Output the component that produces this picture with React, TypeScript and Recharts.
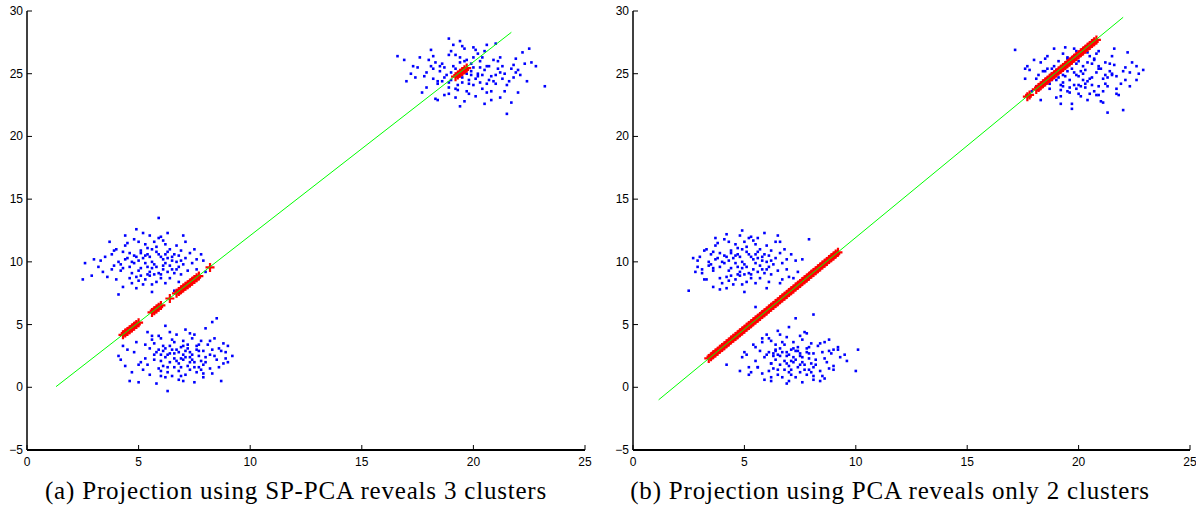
import { ScatterChart, Scatter, XAxis, YAxis } from "recharts";

type Pt = [number, number];

const xTicks = [0, 5, 10, 15, 20, 25];
const yTicks = [-5, 0, 5, 10, 15, 20, 25, 30];

// (a) SP-PCA panel: blue clusters
const spUpperLeft: Pt[] = [
  [5.7, 9.8], [5.2, 10.3], [6.1, 9.4], [4.8, 9.9], [6.5, 10.1], [5.5, 9.2], [5.9, 10.6], [4.4, 10.2], [6.8, 9.6], [5.1, 9.5],
  [6.3, 10.8], [5.4, 11.1], [4.9, 8.8], [6.0, 9.0], [7.1, 10.3], [3.9, 9.7], [5.6, 10.0], [6.6, 9.1], [4.6, 10.7], [5.3, 8.6],
  [7.4, 9.9], [3.5, 10.4], [6.2, 11.4], [5.8, 8.4], [4.2, 9.3], [6.9, 10.9], [5.0, 11.6], [7.6, 9.4], [4.0, 11.0], [6.4, 8.7],
  [5.5, 12.1], [3.2, 9.6], [7.8, 10.6], [4.7, 8.3], [6.0, 12.0], [2.6, 9.9], [2.9, 8.9], [2.5, 8.6], [8.0, 9.2], [5.9, 13.5],
  [4.9, 12.6], [6.3, 12.3], [7.0, 12.1], [4.4, 12.1], [5.2, 12.3], [4.1, 7.4], [6.6, 7.7], [5.6, 7.6], [7.3, 8.2], [3.6, 8.8],
  [5.1, 10.9], [5.8, 11.2], [6.7, 11.3], [4.5, 11.5], [3.8, 10.6], [7.5, 11.0], [7.7, 8.8], [4.3, 8.0], [5.4, 9.0], [6.1, 10.2],
  [5.0, 10.1], [4.6, 9.6], [6.4, 9.7], [5.6, 9.5], [5.3, 10.5], [6.0, 10.4], [4.8, 10.5], [5.9, 9.1], [6.8, 10.5], [4.1, 10.0],
  [5.7, 11.6], [6.9, 9.0], [3.7, 11.6], [7.2, 9.3], [5.5, 8.9], [4.3, 10.8], [6.2, 8.3], [4.9, 7.9], [7.9, 10.1], [3.4, 9.2],
  [5.3, 9.9], [6.5, 9.4], [4.7, 9.1], [5.8, 10.8], [6.3, 10.3], [5.1, 8.9], [6.7, 10.0], [4.5, 10.3], [5.6, 11.0], [6.1, 9.7],
  [5.4, 10.6], [6.2, 9.9], [4.9, 10.4], [6.6, 10.6], [5.0, 9.3], [5.7, 9.0], [6.4, 11.0], [4.2, 9.8], [7.0, 9.8], [5.3, 11.4],
  [6.0, 8.7], [4.6, 8.7], [7.3, 10.7], [3.8, 9.4], [5.9, 11.9], [6.8, 8.4], [4.4, 11.3], [5.2, 8.2], [7.6, 10.2], [3.3, 10.1],
  [6.5, 10.4], [5.5, 10.4], [4.7, 10.0], [6.2, 10.6], [5.8, 9.6], [5.1, 10.7], [6.9, 10.1], [4.3, 9.5], [5.6, 8.2], [6.1, 11.7],
  [3.0, 10.2], [7.1, 11.6], [4.0, 8.6], [6.7, 9.4], [5.4, 9.6], [4.8, 11.8], [7.4, 8.6], [3.9, 10.9], [6.3, 9.2], [5.0, 8.5],
];

const spLower: Pt[] = [
  [7.0, 2.6], [6.5, 3.0], [7.4, 2.2], [6.8, 1.9], [7.7, 2.9], [6.2, 2.4], [7.2, 3.4], [5.8, 2.8], [7.9, 1.8], [6.6, 3.6],
  [7.5, 2.0], [6.1, 1.7], [8.0, 2.4], [6.9, 3.2], [5.5, 3.1], [7.3, 1.4], [8.3, 3.0], [6.4, 2.0], [7.8, 3.7], [5.9, 1.5],
  [8.5, 2.2], [6.0, 3.9], [7.1, 1.0], [8.7, 2.9], [5.3, 2.3], [6.7, 4.2], [7.6, 1.2], [5.6, 3.8], [8.2, 1.5], [6.3, 1.2],
  [9.2, 2.5], [9.0, 2.0], [8.9, 2.8], [4.1, 2.5], [4.3, 3.3], [4.4, 1.7], [4.2, 2.2], [4.6, 0.5], [5.0, 0.4], [5.8, 0.3],
  [6.3, -0.3], [6.2, 0.8], [7.0, 0.5], [7.5, 0.4], [8.7, 0.5], [8.5, 5.5], [8.3, 5.2], [8.0, 4.7], [7.1, 4.6], [6.2, 4.9],
  [5.4, 4.4], [4.9, 3.6], [5.1, 2.0], [5.7, 2.2], [6.6, 2.7], [7.3, 2.8], [6.9, 2.3], [7.7, 2.5], [6.4, 3.3], [7.6, 3.3],
  [8.1, 3.4], [8.4, 3.9], [6.8, 1.3], [5.2, 1.4], [6.0, 2.6], [7.9, 1.1], [8.8, 3.5], [4.8, 2.8], [6.5, 0.9], [7.4, 3.9],
  [5.9, 4.1], [7.2, 1.7], [8.6, 1.6], [5.5, 1.0], [6.1, 3.3], [7.0, 3.7], [6.7, 2.1], [7.8, 2.1], [6.3, 2.6], [7.3, 2.4],
  [5.7, 3.5], [8.2, 2.6], [6.9, 0.9], [7.5, 4.2], [6.0, 1.3], [4.7, 1.2], [8.9, 2.3], [7.1, 2.9], [6.6, 1.6], [7.7, 1.6],
  [6.8, 2.8], [7.3, 2.0], [6.4, 2.7], [7.6, 3.0], [6.2, 3.1], [7.0, 2.2], [7.9, 2.9], [6.6, 2.3], [7.5, 1.6], [6.0, 2.1],
  [8.2, 3.7], [5.7, 2.6], [7.2, 3.1], [8.4, 2.5], [6.9, 1.6], [5.9, 3.0], [7.8, 1.4], [6.5, 3.8], [8.0, 2.0], [6.3, 1.6],
  [7.4, 2.6], [6.7, 3.0], [7.1, 2.4], [8.6, 3.1], [5.4, 1.8], [6.1, 2.9], [7.7, 3.4], [6.8, 0.6], [5.6, 4.1], [8.3, 1.1],
  [4.5, 3.0], [9.0, 3.3], [6.4, 4.4], [7.3, 4.3], [5.0, 1.8], [7.9, 0.8], [6.0, 0.9], [8.8, 1.9], [5.3, 3.4], [7.0, 3.3],
];

const spUpperRight: Pt[] = [
  [19.7, 25.0], [19.2, 25.4], [20.1, 24.6], [18.8, 24.9], [20.5, 25.3], [19.5, 24.3], [19.9, 25.8], [18.5, 25.2], [20.8, 24.8], [19.0, 24.5],
  [20.3, 26.0], [19.4, 26.3], [18.9, 23.9], [20.0, 24.1], [21.1, 25.4], [17.9, 25.1], [19.6, 25.1], [20.6, 24.2], [18.6, 25.8], [19.3, 23.7],
  [21.4, 25.0], [17.5, 25.5], [20.2, 26.6], [19.8, 23.4], [18.2, 24.6], [20.9, 26.1], [19.0, 26.8], [21.6, 24.4], [18.0, 26.1], [20.4, 23.8],
  [19.5, 27.2], [17.2, 25.0], [21.8, 25.7], [18.7, 23.3], [20.0, 27.1], [16.6, 26.4], [23.2, 24.0], [21.5, 21.8], [18.9, 27.8], [19.4, 27.6],
  [21.0, 27.4], [20.6, 27.3], [22.2, 26.7], [22.5, 27.0], [21.9, 26.2], [17.7, 23.5], [18.3, 23.0], [19.6, 22.8], [20.5, 22.6], [21.2, 23.1],
  [21.7, 22.7], [22.0, 23.5], [19.2, 23.1], [18.4, 22.9], [17.0, 24.4], [16.9, 26.1], [17.6, 26.3], [18.1, 26.9], [22.8, 25.6], [22.4, 24.4],
  [21.3, 24.6], [21.9, 25.1], [20.7, 25.6], [19.1, 25.6], [18.4, 24.2], [20.2, 25.0], [19.8, 24.5], [20.4, 24.9], [19.3, 24.8], [18.7, 25.5],
  [21.2, 26.3], [20.8, 23.6], [19.7, 26.1], [22.1, 24.9], [18.1, 25.6], [21.5, 24.1], [20.1, 23.2], [17.4, 24.7], [18.9, 26.5], [22.6, 25.9],
  [19.9, 24.9], [20.7, 24.5], [19.4, 25.9], [20.3, 25.5], [18.6, 24.4], [21.0, 24.2], [19.5, 24.7], [20.0, 26.3], [21.3, 25.6], [18.3, 25.9],
  [19.5, 25.3], [20.2, 24.8], [19.0, 25.1], [20.6, 25.6], [19.8, 24.2], [20.0, 25.5], [18.7, 24.7], [21.0, 24.9], [19.3, 24.1], [20.4, 26.3],
  [19.6, 26.0], [18.9, 24.3], [20.3, 24.3], [21.2, 25.1], [18.2, 25.4], [19.9, 25.2], [20.9, 24.4], [18.5, 25.6], [19.2, 23.8], [21.7, 25.4],
  [17.8, 24.8], [20.5, 26.8], [19.7, 23.6], [18.4, 24.4], [21.1, 26.0], [19.2, 26.5], [21.8, 24.7], [18.2, 26.4], [20.6, 23.5], [19.6, 27.0],
  [17.3, 25.6], [22.0, 25.3], [18.9, 23.4], [20.1, 26.9], [22.3, 25.8], [19.4, 22.4], [20.8, 22.9], [17.9, 23.9], [21.4, 23.6], [19.1, 27.3],
];

// (a) projected points on the SP-PCA direction
const spProjected: Pt[] = [
  [4.3, 4.18], [4.4, 4.32], [4.5, 4.45], [4.6, 4.59], [4.7, 4.73], [4.8, 4.87], [4.9, 5.01], [5.0, 5.15],
  [5.6, 5.97], [5.7, 6.11], [5.8, 6.25], [5.9, 6.39], [6.0, 6.53],
  [6.4, 7.08],
  [6.7, 7.49], [6.8, 7.63], [6.9, 7.77], [7.0, 7.91], [7.1, 8.05], [7.2, 8.18], [7.3, 8.32], [7.4, 8.46],
  [7.5, 8.6], [7.6, 8.74], [7.7, 8.87], [8.2, 9.56],
  [19.2, 24.76], [19.3, 24.89], [19.4, 25.03], [19.5, 25.17], [19.6, 25.31], [19.7, 25.45],
];

const spLine: Pt[] = [[1.3, 0.05], [21.7, 28.3]];

// (b) PCA panel
const pcaUpperLeft: Pt[] = [
  [5.0, 9.8], [4.5, 10.3], [5.4, 9.4], [4.1, 9.9], [5.8, 10.1], [4.8, 9.2], [5.2, 10.6], [3.7, 10.2], [6.1, 9.6], [4.4, 9.5],
  [5.6, 10.8], [4.7, 11.1], [4.2, 8.8], [5.3, 9.0], [6.4, 10.3], [3.4, 9.7], [4.9, 10.0], [5.9, 9.1], [3.9, 10.7], [4.6, 8.6],
  [6.7, 9.9], [3.0, 10.4], [5.5, 11.4], [5.1, 8.4], [3.6, 9.3], [6.2, 10.9], [4.3, 11.6], [6.9, 9.4], [3.3, 11.0], [5.7, 8.7],
  [4.8, 12.1], [2.9, 9.6], [7.1, 10.6], [4.0, 8.3], [5.3, 12.0], [2.5, 7.7], [3.1, 9.1], [4.9, 12.5], [5.9, 12.3], [7.9, 11.8],
  [7.6, 10.2], [6.5, 12.1], [4.2, 12.2], [3.7, 11.9], [5.6, 11.9], [3.9, 7.8], [5.0, 7.6], [6.0, 7.9], [6.6, 8.3], [7.2, 8.7],
  [7.4, 9.2], [3.2, 8.6], [4.4, 10.9], [5.1, 11.2], [6.0, 11.3], [3.8, 11.5], [3.5, 10.6], [6.8, 11.0], [7.0, 8.8], [3.6, 8.0],
  [4.7, 9.0], [5.4, 10.2], [4.3, 10.1], [3.9, 9.6], [5.7, 9.7], [4.9, 9.5], [4.6, 10.5], [5.3, 10.4], [4.1, 10.5], [5.2, 9.1],
  [6.1, 10.5], [3.4, 10.0], [5.0, 11.6], [6.2, 9.0], [6.6, 11.6], [6.5, 9.3], [4.8, 8.9], [3.6, 10.8], [5.5, 8.3], [4.2, 7.9],
  [7.3, 10.1], [2.8, 9.2], [4.6, 9.9], [5.8, 9.4], [5.1, 10.8], [5.6, 10.3], [4.4, 8.9], [6.0, 10.0], [3.8, 10.3], [4.9, 11.0],
  [4.7, 10.6], [5.5, 9.9], [4.2, 10.4], [5.9, 10.6], [4.3, 9.3], [5.0, 9.0], [5.7, 11.0], [3.5, 9.8], [6.3, 9.8], [4.6, 11.4],
  [5.3, 8.7], [3.9, 8.7], [6.6, 10.7], [3.1, 9.4], [5.2, 11.9], [6.1, 8.4], [3.7, 11.3], [4.5, 8.2], [6.9, 10.2], [2.9, 10.1],
  [5.8, 10.4], [4.8, 10.4], [4.0, 10.0], [5.5, 10.6], [5.1, 9.6], [4.4, 10.7], [6.2, 10.1], [3.6, 9.5], [4.9, 8.2], [5.4, 11.7],
  [2.7, 10.3], [6.4, 11.6], [3.3, 8.6], [6.0, 9.4], [4.7, 9.6], [4.1, 11.8], [6.7, 8.6], [3.2, 10.9], [5.6, 9.2], [4.3, 8.5],
];

const pcaLower: Pt[] = [
  [7.2, 2.4], [6.7, 2.8], [7.6, 2.0], [7.0, 1.7], [7.9, 2.7], [6.4, 2.2], [7.4, 3.2], [6.0, 2.6], [8.1, 1.6], [6.8, 3.4],
  [7.7, 1.8], [6.3, 1.5], [8.2, 2.2], [7.1, 3.0], [5.7, 2.9], [7.5, 1.2], [8.5, 2.8], [6.6, 1.8], [8.0, 3.5], [6.1, 1.3],
  [8.7, 2.0], [6.2, 3.7], [7.3, 0.8], [8.9, 2.7], [5.5, 2.1], [6.9, 4.0], [7.8, 1.0], [5.8, 3.6], [8.4, 1.3], [6.5, 1.0],
  [10.0, 1.3], [10.1, 3.0], [9.5, 2.6], [4.2, 1.8], [4.8, 1.3], [6.2, 0.5], [8.4, 0.5], [7.3, 5.5], [8.1, 5.8], [5.5, 6.4],
  [7.0, 4.8], [6.5, 4.5], [7.8, 4.3], [8.8, 3.8], [9.2, 3.2], [9.6, 2.1], [9.0, 1.4], [8.6, 0.7], [7.6, 0.4], [6.9, 0.3],
  [5.9, 0.6], [5.3, 1.2], [5.1, 2.6], [5.4, 3.4], [6.0, 4.2], [6.4, 3.0], [6.9, 2.5], [7.5, 2.5], [7.1, 2.1], [7.9, 2.3],
  [6.6, 3.1], [7.8, 3.1], [8.3, 3.3], [8.6, 3.6], [7.0, 1.2], [5.6, 1.6], [6.3, 2.5], [8.1, 0.9], [9.0, 3.0], [5.0, 2.8],
  [6.7, 0.8], [7.6, 3.8], [6.1, 3.9], [7.4, 1.6], [8.8, 1.5], [5.8, 1.1], [6.4, 3.4], [7.2, 3.6], [6.9, 1.9], [8.0, 1.9],
  [6.5, 2.6], [7.5, 2.7], [7.1, 1.0], [7.7, 4.4], [6.2, 1.9], [5.2, 1.0], [9.3, 2.4], [7.3, 2.9], [6.8, 1.4], [7.9, 1.4],
  [7.0, 2.6], [7.5, 1.8], [6.6, 2.5], [7.8, 2.8], [6.4, 2.9], [7.2, 2.0], [8.1, 2.7], [6.8, 2.1], [7.7, 1.4], [6.2, 1.9],
  [8.4, 3.5], [5.9, 2.4], [7.4, 2.9], [8.6, 2.3], [7.1, 1.4], [6.1, 2.8], [8.0, 1.2], [6.7, 3.6], [8.2, 1.8], [6.5, 1.4],
  [7.6, 2.4], [6.9, 2.8], [7.3, 2.2], [8.8, 2.9], [5.6, 1.6], [6.3, 2.7], [7.9, 3.2], [7.0, 0.5], [5.8, 3.9], [8.5, 0.9],
  [4.9, 2.4], [9.2, 3.0], [6.6, 4.2], [7.5, 4.1], [5.2, 1.6], [8.1, 0.6], [6.2, 0.8], [9.0, 1.7], [5.5, 3.2], [7.2, 3.1],
];

const pcaUpperRight: Pt[] = [
  [20.0, 24.8], [19.5, 25.2], [20.4, 24.4], [19.1, 24.7], [20.8, 25.1], [19.8, 24.1], [20.2, 25.6], [18.8, 25.0], [21.1, 24.6], [19.3, 24.3],
  [20.6, 25.8], [19.7, 26.1], [19.2, 23.7], [20.3, 23.9], [21.4, 25.2], [18.2, 24.9], [19.9, 24.9], [20.9, 24.0], [18.9, 25.6], [19.6, 23.5],
  [21.7, 24.8], [17.8, 25.3], [20.5, 26.4], [20.1, 23.2], [18.5, 24.4], [21.2, 25.9], [19.3, 26.6], [21.9, 24.2], [18.3, 25.9], [20.7, 23.6],
  [19.8, 27.0], [17.15, 26.9], [22.9, 25.3], [22.0, 22.1], [21.3, 21.9], [18.9, 27.0], [21.6, 27.0], [19.7, 22.6], [18.3, 22.9], [22.2, 26.7],
  [22.4, 25.9], [22.6, 24.5], [21.8, 23.3], [21.0, 22.8], [20.4, 22.9], [19.0, 23.1], [18.1, 24.0], [17.6, 24.6], [22.1, 25.5], [21.5, 26.4],
  [20.9, 26.8], [20.3, 26.9], [18.6, 26.4], [18.0, 26.1], [17.9, 23.6], [19.4, 24.8], [20.1, 25.2], [19.6, 24.5], [20.6, 24.7], [20.0, 24.1],
  [19.0, 25.3], [21.0, 25.4], [20.4, 25.9], [19.5, 26.2], [21.3, 24.0], [22.3, 24.0], [18.7, 23.8], [20.8, 23.3], [19.2, 22.6], [21.6, 25.7],
  [18.4, 25.2], [20.2, 24.5], [19.9, 23.8], [21.7, 23.8], [19.1, 26.0], [20.7, 26.2], [17.7, 25.6], [22.7, 25.0], [21.1, 23.6], [20.5, 23.4],
  [19.4, 25.5], [20.3, 24.2], [19.7, 25.4], [21.2, 24.9], [18.8, 24.5], [20.9, 25.6], [19.3, 24.0], [20.0, 26.0], [21.5, 25.0], [18.6, 25.4],
  [19.8, 25.1], [20.5, 24.6], [19.3, 24.9], [20.9, 25.4], [20.1, 24.0], [20.3, 25.3], [19.0, 24.5], [21.3, 24.7], [19.6, 23.9], [20.7, 26.1],
  [19.9, 25.8], [19.2, 24.1], [20.6, 24.1], [21.5, 24.9], [18.5, 25.2], [20.2, 25.0], [21.2, 24.2], [18.8, 25.4], [19.5, 23.6], [22.0, 25.2],
  [18.1, 24.6], [20.8, 26.6], [20.0, 23.4], [18.7, 24.2], [21.4, 25.8], [19.5, 26.3], [22.1, 24.5], [18.5, 26.2], [20.9, 23.3], [19.9, 26.8],
  [17.6, 25.4], [22.3, 25.1], [19.2, 23.2], [20.4, 26.7], [22.6, 25.6], [19.7, 22.2], [21.1, 22.7], [18.2, 23.7], [21.7, 23.4], [19.4, 27.1],
];

const pcaProjected: Pt[] = [
  [3.4, 2.3], [3.5, 2.44], [3.6, 2.59], [3.7, 2.74], [3.8, 2.88], [3.9, 3.03], [4.0, 3.17], [4.1, 3.32], [4.2, 3.47], [4.3, 3.61],
  [4.4, 3.76], [4.5, 3.9], [4.6, 4.05], [4.7, 4.19], [4.8, 4.34], [4.9, 4.49], [5.0, 4.63], [5.1, 4.78], [5.2, 4.92], [5.3, 5.07],
  [5.4, 5.22], [5.5, 5.36], [5.6, 5.51], [5.7, 5.65], [5.8, 5.8], [5.9, 5.95], [6.0, 6.09], [6.1, 6.24], [6.2, 6.38], [6.3, 6.53],
  [6.4, 6.68], [6.5, 6.82], [6.6, 6.97], [6.7, 7.11], [6.8, 7.26], [6.9, 7.4], [7.0, 7.55], [7.1, 7.7], [7.2, 7.84], [7.3, 7.99],
  [7.4, 8.13], [7.5, 8.28], [7.6, 8.43], [7.7, 8.57], [7.8, 8.72], [7.9, 8.86], [8.0, 9.01], [8.1, 9.16], [8.2, 9.3], [8.3, 9.45],
  [8.4, 9.59], [8.5, 9.74], [8.6, 9.89], [8.7, 10.03], [8.8, 10.18], [8.9, 10.32], [9.0, 10.47], [9.1, 10.62], [9.2, 10.76],
  [17.7, 23.17], [17.8, 23.31], [18.1, 23.75], [18.2, 23.9], [18.3, 24.04], [18.4, 24.19], [18.5, 24.33], [18.6, 24.48],
  [18.7, 24.63], [18.8, 24.77], [18.9, 24.92], [19.0, 25.06], [19.1, 25.21], [19.2, 25.35], [19.3, 25.5], [19.4, 25.65],
  [19.5, 25.79], [19.6, 25.94], [19.7, 26.08], [19.8, 26.23], [19.9, 26.38], [20.0, 26.52], [20.1, 26.67], [20.2, 26.81],
  [20.3, 26.96], [20.4, 27.11], [20.5, 27.25], [20.6, 27.4], [20.7, 27.54], [20.8, 27.69],
];

const pcaLine: Pt[] = [[1.15, -1.0], [22.0, 29.5]];

const captionA = "(a) Projection using SP-PCA reveals 3 clusters";
const captionB = "(b) Projection using PCA reveals only 2 clusters";

const toPts = (a: Pt[]) => a.map(([x, y]) => ({ x, y }));

const TICK_FONT = '"Liberation Sans", Arial, sans-serif';
const fmt = (v: number) => (v < 0 ? `\u2212${-v}` : `${v}`);

const BottomTick = ({ x, y, payload }: any) => (
  <g>
    <line x1={x} x2={x} y1={y} y2={y - 5} stroke="#000" />
    <text x={x} y={y + 16} textAnchor="middle" fontSize={12} fontFamily={TICK_FONT} fill="#000">
      {fmt(payload.value)}
    </text>
  </g>
);
const TopTick = ({ x, y }: any) => <line x1={x} x2={x} y1={y} y2={y + 5} stroke="#000" />;
const LeftTick = ({ x, y, payload }: any) => (
  <g>
    <line x1={x} x2={x + 5} y1={y} y2={y} stroke="#000" />
    <text x={x - 4} y={y + 4} textAnchor="end" fontSize={12} fontFamily={TICK_FONT} fill="#000">
      {fmt(payload.value)}
    </text>
  </g>
);
const RightTick = ({ x, y }: any) => <line x1={x} x2={x - 5} y1={y} y2={y} stroke="#000" />;

const Dot = ({ cx, cy }: any) => <rect x={cx - 1.3} y={cy - 1.3} width={2.6} height={2.6} fill="#0000ff" />;
const Cross = ({ cx, cy }: any) => (
  <path d={`M${cx - 4.5},${cy}H${cx + 4.5}M${cx},${cy - 4.5}V${cy + 4.5}`} stroke="#ff0000" strokeWidth={2.2} fill="none" />
);
const Empty = () => <g />;

const axisLine = { stroke: "#000", strokeWidth: 1.5 };

function Panel({ left, width, right, blue, red, line }: any) {
  return (
    <div style={{ position: "absolute", left, top: 0 }}>
      <ScatterChart width={width} height={470} margin={{ top: 11, right, bottom: 0, left: 0 }}>
        <XAxis xAxisId="b" type="number" dataKey="x" domain={[0, 25]} ticks={xTicks} interval={0}
          tickSize={0} tickMargin={0} height={20} tick={BottomTick} axisLine={{ stroke: "#000", strokeWidth: 2 }} allowDataOverflow />
        <XAxis xAxisId="t" orientation="top" type="number" dataKey="x" domain={[0, 25]} ticks={xTicks} interval={0}
          tickSize={0} tickMargin={0} height={0} tick={TopTick} axisLine={axisLine} allowDataOverflow />
        <YAxis yAxisId="l" type="number" dataKey="y" domain={[-5, 30]} ticks={yTicks} interval={0}
          tickSize={0} tickMargin={0} width={27} tick={LeftTick} axisLine={axisLine} allowDataOverflow />
        <YAxis yAxisId="r" orientation="right" type="number" dataKey="y" domain={[-5, 30]} ticks={yTicks} interval={0}
          tickSize={0} tickMargin={0} width={0} tick={RightTick} axisLine={{ stroke: "#000", strokeWidth: 1 }} allowDataOverflow />
        {blue.map((d: Pt[], i: number) => (
          <Scatter key={i} xAxisId="b" yAxisId="l" data={toPts(d)} shape={Dot} isAnimationActive={false} />
        ))}
        <Scatter xAxisId="b" yAxisId="l" data={toPts(red)} shape={Cross} isAnimationActive={false} />
        <Scatter xAxisId="b" yAxisId="l" data={toPts(line)} shape={Empty} line={{ stroke: "#00ff00", strokeWidth: 1 }}
          isAnimationActive={false} />
      </ScatterChart>
    </div>
  );
}

const captionStyle = (center: number): React.CSSProperties => ({
  position: "absolute",
  left: center - 300,
  width: 600,
  top: 478,
  textAlign: "center",
  fontFamily: '"Liberation Serif", "Times New Roman", serif',
  fontSize: 25,
  letterSpacing: 0.8,
  lineHeight: "25px",
  whiteSpace: "nowrap",
  color: "#000",
});

export default function App() {
  return (
    <div style={{ position: "absolute", left: 0, top: 0, width: 1196, height: 512, background: "#fff" }}>
      <Panel left={0} width={600} right={15} blue={[spUpperLeft, spLower, spUpperRight]} red={spProjected} line={spLine} />
      <Panel left={606} width={590} right={6} blue={[pcaUpperLeft, pcaLower, pcaUpperRight]} red={pcaProjected} line={pcaLine} />
      <div style={captionStyle(296)}>{captionA}</div>
      <div style={captionStyle(890)}>{captionB}</div>
    </div>
  );
}
